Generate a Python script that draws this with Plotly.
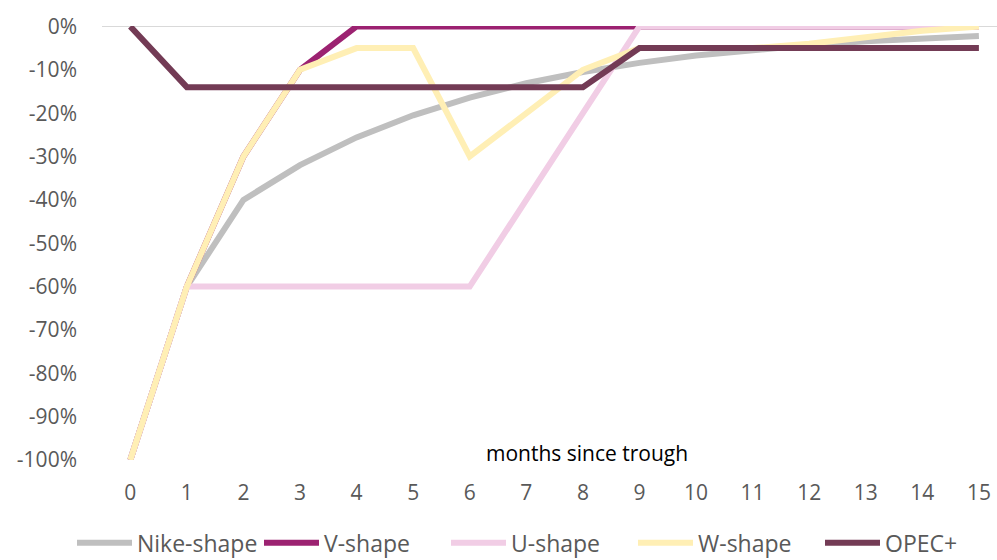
import plotly.graph_objects as go

# months since the trough
months = list(range(16))

# recovery paths, % change versus pre-shock level
nike_shape = [-100, -60, -40, -32, -25.6, -20.5, -16.4, -13.1, -10.5, -8.4, -6.7, -5.4, -4.3, -3.4, -2.7, -2.2]
v_shape = [-100, -60, -30, -10, 0, 0, 0, 0, 0, 0, 0, 0, 0, 0, 0, 0]
u_shape = [-100, -60, -60, -60, -60, -60, -60, -40, -20, 0, 0, 0, 0, 0, 0, 0]
w_shape = [-100, -60, -30, -10, -5, -5, -30, -20, -10, -5, -5, -5, -4, -2.5, -1, 0]
opec_plus = [0, -14, -14, -14, -14, -14, -14, -14, -14, -5, -5, -5, -5, -5, -5, -5]

series = [
    ("Nike-shape", nike_shape, "#BFBFBF"),
    ("V-shape", v_shape, "#9C2271"),
    ("U-shape", u_shape, "#F1CDE5"),
    ("W-shape", w_shape, "#FFEFB5"),
    ("OPEC+", opec_plus, "#733B55"),
]

y_ticks = list(range(-100, 1, 10))

FONT = "Open Sans"
TICK_COLOR = "#595959"

fig = go.Figure()
for name, values, color in series:
    fig.add_trace(go.Scatter(
        x=months, y=values, name=name, mode="lines",
        line=dict(color=color, width=6),
    ))

fig.update_layout(
    width=997, height=560,
    margin=dict(l=102, r=0, t=26, b=100, autoexpand=False),
    paper_bgcolor="white", plot_bgcolor="white",
    font=dict(family=FONT, size=21, color=TICK_COLOR),
    showlegend=True,
    legend=dict(
        orientation="h", xref="paper", yref="paper",
        x=(72 - 102) / 895, xanchor="left", y=-0.141, yanchor="top",
        font=dict(size=23, color=TICK_COLOR),
        traceorder="normal", itemwidth=55,
        entrywidth=117, entrywidthmode="pixels",
    ),
    xaxis=dict(
        range=[-0.5, 15.32], tickmode="array", tickvals=months,
        ticktext=[str(m) for m in months],
        showgrid=False, zeroline=False, showline=False, ticks="",
        ticklabelstandoff=18,
    ),
    yaxis=dict(
        range=[-100, 0.1], tickmode="array", tickvals=y_ticks,
        ticktext=[f"{v}%" for v in y_ticks],
        showgrid=False, showline=False, ticks="",
        zeroline=True, zerolinecolor="#D9D9D9", zerolinewidth=1.3,
        ticklabelstandoff=24,
    ),
    annotations=[dict(
        text="months since trough", xref="paper", yref="paper",
        x=(587 - 102) / 895, y=(460 - 453) / 434,
        xanchor="center", yanchor="middle", showarrow=False,
        font=dict(family=FONT, size=21, color="#000000"),
    )],
)

fig.write_html("out.html")
